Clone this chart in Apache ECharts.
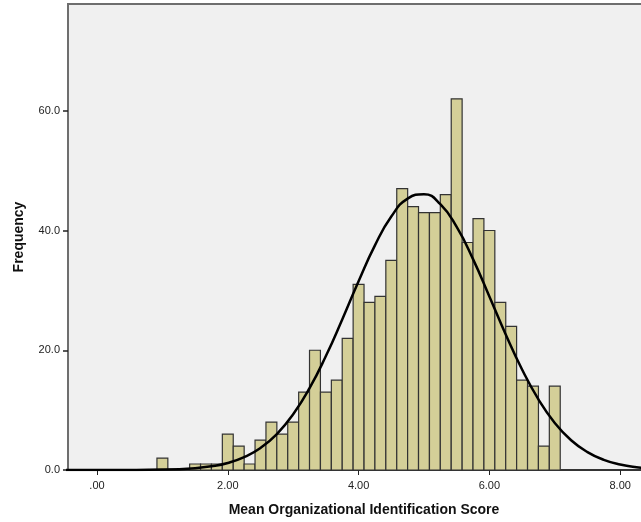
<!DOCTYPE html>
<html>
<head>
<meta charset="utf-8">
<script src="https://cdn.jsdelivr.net/npm/echarts@6/dist/echarts.min.js"></script>
<style>
html,body{margin:0;padding:0;background:#fff;overflow:hidden;}
#chart{width:680px;height:522px;}
</style>
</head>
<body>
<div id="chart"></div>
<script>
// Histogram bins (centre of each bin, width 1/6) and frequencies
var binCenters = [1.000,1.167,1.333,1.500,1.667,1.833,2.000,2.167,2.333,2.500,2.667,2.833,3.000,3.167,3.333,3.500,3.667,3.833,4.000,4.167,4.333,4.500,4.667,4.833,5.000,5.167,5.333,5.500,5.667,5.833,6.000,6.167,6.333,6.500,6.667,6.833,7.000];
var frequencies = [2,0,0,1,1,1,6,4,1,5,8,6,8,13,20,13,15,22,31,28,29,35,47,44,43,43,46,62,38,42,40,28,24,15,14,4,14];
var binWidth = 1/6;

// Normal curve
var curveX = [-0.5,0,0.5,1,1.5,1.75,2,2.25,2.5,2.75,3,3.25,3.5,3.75,4,4.25,4.5,4.75,5,5.25,5.5,5.75,6,6.25,6.5,6.75,7,7.25,7.5,7.75,8,8.25,8.5,8.75];
var curveY = [0,0,0.01,0.07,0.31,0.62,1.18,2.15,3.68,6.01,9.31,13.66,19.03,25.15,31.53,37.52,42.33,45.33,46.05,44.39,40.59,35.22,28.99,22.64,16.78,11.8,7.86,4.97,2.99,1.7,0.92,0.47,0.22,0.1];

// Tick labels
var xTicks = [0,2,4,6,8];
var yTicks = [0,20,40,60];

var barData = binCenters.map(function(c,i){return [c, frequencies[i]];}).filter(function(d){return d[1]>0;});
var lineData = curveX.map(function(x,i){return [x, curveY[i]];});

var chart = echarts.init(document.getElementById('chart'), null, {renderer:'canvas'});
chart.setOption({
  animation:false,
  backgroundColor:'#ffffff',
  grid:{left:68, right:20, top:4, bottom:51, show:true, backgroundColor:'#f0f0f0', borderColor:'#6e6e6e', borderWidth:2},
  xAxis:{
    type:'value', min:-0.4434, max:8.609,
    name:'Mean Organizational Identification Score', nameLocation:'middle', nameGap:33,
    nameTextStyle:{fontFamily:'Liberation Sans, Arial', fontWeight:'bold', fontSize:14, color:'#111'},
    axisLine:{show:true, onZero:false, lineStyle:{color:'#222', width:1.5}},
    axisTick:{show:true, customValues:xTicks, length:5, lineStyle:{color:'#222', width:1}},
    axisLabel:{customValues:xTicks, margin:10, fontFamily:'Liberation Sans, Arial', fontSize:11, color:'#222',
      formatter:function(v){var s=v.toFixed(2); return s.charAt(0)==='0'?s.slice(1):s;}},
    splitLine:{show:false}
  },
  yAxis:{
    type:'value', min:0, max:77.83,
    name:'Frequency', nameLocation:'middle', nameGap:42,
    nameTextStyle:{fontFamily:'Liberation Sans, Arial', fontWeight:'bold', fontSize:14, color:'#111'},
    axisLine:{show:true, onZero:false, lineStyle:{color:'#6e6e6e', width:2}},
    axisTick:{show:true, customValues:yTicks, length:5, lineStyle:{color:'#222', width:1.5}},
    axisLabel:{customValues:yTicks, margin:8, fontFamily:'Liberation Sans, Arial', fontSize:11, color:'#222',
      formatter:function(v){return v.toFixed(1);}},
    splitLine:{show:false}
  },
  series:[
    {
      type:'custom',
      data:barData,
      renderItem:function(params, api){
        var c = api.value(0), f = api.value(1);
        var p1 = api.coord([c - binWidth/2, f]);
        var p2 = api.coord([c + binWidth/2, 0]);
        return {type:'rect', shape:{x:p1[0], y:p1[1], width:p2[0]-p1[0], height:p2[1]-p1[1]},
          style:{fill:'#d4cf98', stroke:'#333333', lineWidth:1.2}};
      },
      z:2
    },
    {
      type:'line', data:lineData, smooth:true, showSymbol:false, symbol:'none',
      lineStyle:{color:'#000', width:2.5}, z:3
    }
  ]
});
</script>
</body>
</html>
